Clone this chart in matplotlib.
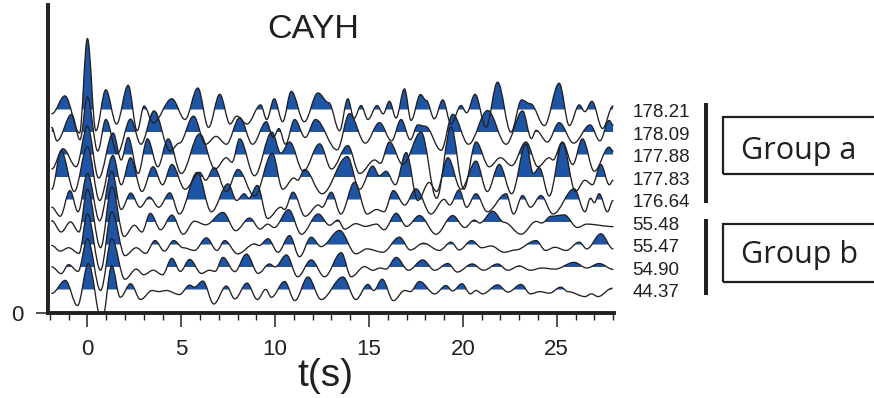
import matplotlib
matplotlib.use('Agg')
import matplotlib.pyplot as plt
from matplotlib.path import Path
from matplotlib.patches import PathPatch, Rectangle
from matplotlib.ticker import MultipleLocator

plt.rcParams['font.family'] = ['Liberation Sans', 'DejaVu Sans']

# ---------------- data ----------------
title = 'CAYH'
x_label = 't(s)'
x_ticks = [0, 5, 10, 15, 20, 25]
y_ticks = [0]
trace_labels = ['178.21', '178.09', '177.88', '177.83', '176.64',
                '55.48', '55.47', '54.90', '44.37']
group_names = ['Group a', 'Group b']
group_sizes = [5, 4]

# each trace: (time s, amplitude) at its successive peaks and troughs
trace_178_21 = [(-1.9, -0.15), (-1.2, 0.65), (-0.42, -1.0), (0.0, 3.2), (0.45, -0.9), (0.98, 0.92),
                (1.55, -0.6), (2.17, 1.12), (2.65, -0.9), (3.02, 0.2), (3.5, -0.55), (4.5, 0.52),
                (5.2, -0.4), (5.88, 1.0), (6.45, -0.75), (7.05, 0.72), (7.6, -0.6), (7.95, -0.25),
                (8.5, -0.6), (9.23, 0.25), (9.55, -0.4), (9.95, 0.52), (10.4, -0.5), (10.86, 0.85),
                (11.55, -0.5), (12.28, 0.78), (12.85, 0.35), (13.43, -0.9), (13.87, 0.52), (14.2, -0.35),
                (14.58, 0.22), (14.94, -0.4), (15.43, 0.22), (15.75, -0.15), (16.09, 0.41), (16.44, -0.33),
                (16.89, 0.96), (17.24, -0.44), (17.74, 0.71), (18.05, 0.45), (18.48, -0.37), (18.93, 0.47),
                (19.37, -0.6), (19.9, 0.22), (20.2, -0.1), (20.65, 0.72), (21.23, -0.74), (21.85, 1.26),
                (22.56, -0.96), (23.13, 0.47), (23.6, 0.3), (24.34, -0.67), (25.13, 1.21), (25.67, -0.67),
                (26.2, 0.25), (26.5, -0.05), (26.87, 0.41), (27.44, -0.8), (28.0, 0.2)]
trace_178_09 = [(-1.9, 0.25), (-1.62, -0.35), (-0.84, 0.83), (-0.4, -0.3), (0.0, 1.6), (0.55, -0.8),
                (0.98, 0.6), (1.6, -0.9), (2.3, 0.62), (2.85, -0.5), (3.55, 0.98), (4.4, -0.8),
                (4.9, -0.45), (5.65, 0.75), (6.3, -0.5), (6.85, -0.15), (7.4, -0.5), (8.11, 0.68),
                (8.8, -0.5), (9.53, 0.5), (9.9, -0.2), (10.2, 0.2), (10.55, -0.5), (11.04, 0.6),
                (11.6, -0.2), (12.15, 0.6), (13.3, -0.75), (13.96, 0.86), (14.8, -0.45), (15.56, 0.46),
                (16.2, -0.35), (16.71, 0.6), (17.2, -0.3), (17.6, 0.36), (18.0, 0.3), (18.84, -0.77),
                (19.46, 0.83), (20.3, -0.5), (21.32, 1.0), (22.3, -0.5), (23.18, 0.98), (23.65, -0.25),
                (23.9, 0.12), (24.5, -0.4), (25.13, 0.46), (25.9, -0.45), (26.78, 0.36), (27.3, -0.35),
                (27.79, 0.56), (28.0, 0.35)]
trace_177_88 = [(-1.9, -0.6), (-1.3, 0.3), (-0.6, -0.5), (0.0, 1.3), (0.6, -1.0), (1.37, 1.0),
                (1.8, -0.2), (2.17, 0.8), (2.7, -0.8), (3.2, 0.74), (3.75, -0.5), (4.3, 0.74),
                (5.0, -0.8), (5.98, 0.96), (6.8, -0.6), (7.4, -0.1), (7.7, -0.3), (8.11, 0.74),
                (8.9, -0.9), (9.83, 1.04), (10.3, 0.1), (10.77, 0.6), (11.5, -0.7), (12.37, 0.52),
                (13.0, -0.6), (13.87, 0.44), (14.5, -0.8), (15.3, -0.2), (15.6, -0.35), (16.09, 0.6),
                (16.8, -0.4), (17.77, 1.04), (18.6, -1.9), (19.37, 1.26), (20.05, -1.5), (20.7, 0.6),
                (21.4, -0.5), (22.0, -0.1), (22.6, -0.45), (23.36, 0.6), (24.0, -0.5), (24.6, -0.1),
                (24.8, -0.2), (25.3, 0.6), (25.85, -0.4), (26.37, 0.74), (27.0, -0.7), (27.79, 0.37),
                (28.0, 0.2)]
trace_177_83 = [(-1.9, -0.5), (-1.4, 1.2), (-0.7, -0.6), (0.0, 1.4), (0.65, -1.0), (1.36, 1.0),
                (1.8, -0.3), (2.3, 0.9), (2.9, -0.6), (3.5, 0.5), (4.0, -0.3), (4.5, 0.6),
                (5.2, -0.5), (5.98, 0.25), (6.3, -0.1), (6.75, 0.46), (7.4, -0.6), (8.02, 0.38),
                (8.9, -0.8), (9.85, 1.1), (10.4, -0.5), (11.0, 0.0), (11.2, -0.1), (11.57, 0.38),
                (12.5, -0.7), (13.84, 0.95), (14.5, -0.5), (15.2, 0.53), (15.55, 0.1), (15.91, 0.3),
                (16.4, -0.3), (16.98, 1.13), (17.6, -1.0), (18.2, -0.2), (18.6, -0.6), (19.2, 0.9),
                (19.9, -0.5), (20.7, 0.75), (21.3, -0.6), (21.94, 0.6), (22.6, -0.7), (23.36, 1.5),
                (23.75, 0.2), (24.07, 0.46), (24.6, -0.8), (25.3, 1.57), (26.0, -0.6), (26.5, -0.1),
                (26.9, -0.3), (27.35, 0.6), (27.8, -0.3), (28.0, -0.1)]
trace_176_64 = [(-1.9, -0.3), (-1.45, -0.7), (-0.93, 0.44), (-0.5, -0.5), (0.0, 1.2), (0.65, -0.9),
                (1.3, 1.3), (1.8, -0.4), (2.31, 0.33), (2.8, -0.3), (3.3, 0.15), (3.8, -0.3),
                (4.39, 0.34), (4.9, -0.6), (5.85, 1.25), (6.6, -0.5), (7.49, 0.74), (7.95, 0.0),
                (8.35, 0.3), (8.6, 0.1), (9.05, 0.67), (9.6, -0.8), (10.3, -0.3), (10.5, -0.4),
                (10.95, 0.37), (11.6, -0.7), (12.3, -0.2), (12.5, -0.3), (12.99, 0.37), (13.5, -0.6),
                (14.23, 0.81), (14.9, -0.6), (15.4, -0.4), (15.8, -0.5), (16.3, 0.44), (16.9, -0.2),
                (17.5, 0.52), (18.3, -0.6), (19.0, 0.05), (19.3, -0.2), (19.8, 0.47), (20.2, -0.3),
                (20.7, 0.3), (21.3, -0.5), (22.3, 0.3), (22.7, -0.6), (23.18, 0.22), (23.6, -0.3),
                (24.16, 0.22), (24.8, -0.6), (25.93, 0.52), (26.5, -0.5), (26.8, 0.1), (27.0, -0.1),
                (27.26, 0.3), (27.7, -0.5), (28.0, 0.0)]
trace_55_48 = [(-1.9, 0.1), (-1.4, -0.4), (-0.9, 0.05), (-0.45, -0.4), (0.0, 1.5), (0.7, -1.1),
               (1.3, 1.6), (1.95, -0.6), (2.5, -0.1), (2.9, -0.4), (3.35, 0.43), (3.9, -0.3),
               (4.5, 0.35), (5.1, -0.5), (5.7, 0.08), (6.3, -0.08), (7.22, 0.47), (7.9, -0.34),
               (8.64, 0.22), (9.2, -0.27), (9.6, -0.05), (9.95, -0.2), (10.72, 0.59), (11.4, -0.5),
               (12.3, 0.4), (12.9, -0.1), (13.34, 0.13), (13.7, -0.27), (14.3, -0.03), (14.8, -0.15),
               (15.4, -0.05), (15.8, -0.3), (16.45, 0.43), (17.0, -0.15), (17.69, 0.33), (18.57, -0.5),
               (19.46, 0.33), (20.1, -0.2), (20.61, 0.13), (20.9, 0.0), (21.59, 0.52), (22.2, 0.03),
               (23.1, -0.5), (23.9, 0.07), (24.2, 0.0), (24.7, 0.3), (25.4, 0.36), (26.1, -0.2),
               (26.6, -0.05), (28.0, -0.16)]
trace_55_47 = [(-1.9, 0.0), (-1.45, -0.25), (-1.0, -0.1), (-0.45, -0.35), (0.0, 1.4), (0.7, -1.1),
               (1.3, 1.5), (2.0, -0.45), (2.6, -0.1), (3.1, -0.35), (3.6, 0.22), (4.1, -0.25),
               (4.6, 0.22), (5.1, -0.1), (5.7, -0.22), (6.34, 0.34), (6.9, -0.22), (7.31, 0.22),
               (8.0, -0.37), (8.9, 0.07), (9.15, 0.0), (9.62, 0.3), (10.15, -0.3), (10.77, 0.44),
               (11.3, -0.5), (11.92, 0.37), (12.45, -0.05), (13.43, 0.67), (14.3, -0.37), (14.9, -0.15),
               (15.73, -0.3), (16.62, 0.37), (17.2, -0.2), (17.9, 0.1), (18.75, -0.22), (19.37, 0.15),
               (19.8, -0.2), (20.47, 0.22), (21.0, -0.1), (21.5, -0.02), (22.2, -0.3), (22.8, -0.2),
               (23.9, 0.22), (24.4, -0.22), (24.9, -0.08), (25.5, -0.22), (26.2, 0.15), (26.6, -0.15),
               (27.35, 0.52), (28.0, -0.15)]
trace_54_90 = [(-1.9, 0.05), (-1.4, -0.25), (-1.0, 0.15), (-0.5, -0.15), (0.0, 1.3), (0.7, -1.0),
               (1.3, 1.3), (2.0, -0.5), (2.6, -0.05), (3.0, -0.3), (3.5, -0.1), (4.0, -0.3),
               (4.5, 0.43), (4.95, -0.15), (5.45, 0.38), (6.07, -0.24), (6.5, -0.1), (6.8, -0.15),
               (7.22, 0.47), (7.85, -0.16), (8.47, 0.62), (9.1, -0.24), (9.7, 0.18), (10.0, 0.05),
               (10.6, 0.58), (11.2, -0.39), (11.92, 0.36), (12.63, -0.39), (13.52, 0.68), (14.05, -0.39),
               (14.76, 0.06), (15.2, -0.1), (15.6, 0.0), (15.9, -0.05), (16.45, 0.47), (17.1, -0.1),
               (17.86, 0.36), (18.5, -0.1), (19.2, 0.2), (19.7, -0.18), (20.5, 0.18), (21.1, -0.1),
               (21.85, 0.18), (22.4, -0.1), (23.0, 0.09), (23.6, -0.1), (24.2, 0.0), (24.9, -0.05),
               (25.93, 0.25), (26.6, 0.0), (27.26, 0.2), (28.0, -0.06)]
trace_44_37 = [(-1.9, -0.13), (-1.18, 0.45), (-0.53, -0.67), (0.05, 1.2), (0.77, -1.4), (1.3, 1.1),
               (1.75, -0.3), (2.3, 0.3), (2.83, -0.4), (3.45, 0.0), (3.8, -0.05), (4.2, 0.0),
               (4.9, -0.18), (5.45, 0.24), (5.7, 0.15), (6.15, 0.42), (6.73, -0.6), (7.4, 0.2),
               (7.85, -0.37), (8.5, 0.33), (9.05, -0.4), (9.5, 0.05), (9.8, -0.3), (10.5, 0.4),
               (11.05, -0.45), (11.75, 0.6), (12.45, -0.4), (13.61, 0.6), (14.3, -0.4), (14.94, 0.27),
               (15.25, 0.0), (15.7, 0.5), (16.3, -0.45), (16.9, 0.0), (17.2, -0.05), (17.69, 0.4),
               (18.5, -0.15), (19.1, 0.22), (19.45, -0.02), (19.95, 0.3), (20.4, -0.15), (20.7, 0.0),
               (21.05, -0.15), (21.85, 0.25), (22.4, -0.07), (23.1, 0.27), (23.6, -0.15), (24.1, -0.05),
               (24.6, -0.12), (25.22, 0.15), (25.6, -0.05), (26.5, -0.27), (26.85, -0.15), (27.2, -0.27),
               (27.95, 0.1)]

traces = [trace_178_21, trace_178_09, trace_177_88, trace_177_83, trace_176_64,
          trace_55_48, trace_55_47, trace_54_90, trace_44_37]

# ---------------- style / layout ----------------
W, H = 874, 398
INK = '#231f20'
BLUE = '#1d55a4'
LIGHT = '#86a6d3'


def fx(px):
    return px / W


def fy(py):
    return 1 - py / H


fig = plt.figure(figsize=(W / 100, H / 100), dpi=100)
ax = fig.add_axes([fx(48), fy(313), 566 / W, 308 / H])
ax.set_xlim(-2.1, 28.05)
ax.set_ylim(0, 308 / 22.5)


def wiggle(points, base, k=0.36):
    verts = [(points[0][0], base + points[0][1])]
    codes = [Path.MOVETO]
    for (t0, a0), (t1, a1) in zip(points[:-1], points[1:]):
        d = (t1 - t0) * k
        verts += [(t0 + d, base + a0), (t1 - d, base + a1), (t1, base + a1)]
        codes += [Path.CURVE4] * 3
    return verts, codes


n = len(traces)
strip = 0.065
for i, pts in enumerate(traces):
    base = n - i
    verts, codes = wiggle(pts, base)
    closed = Path(verts + [(pts[-1][0], base), (pts[0][0], base), (pts[0][0], base)],
                  codes + [Path.LINETO, Path.LINETO, Path.CLOSEPOLY])
    p_light = PathPatch(closed, facecolor=LIGHT, edgecolor='none', lw=0, zorder=2)
    ax.add_patch(p_light)
    p_light.set_clip_path(Rectangle((-3, base + 0.025), 40, strip - 0.025,
                                    transform=ax.transData))
    p_blue = PathPatch(closed, facecolor=BLUE, edgecolor='none', lw=0, zorder=2)
    ax.add_patch(p_blue)
    p_blue.set_clip_path(Rectangle((-3, base + strip), 40, 20, transform=ax.transData))
    ax.add_patch(PathPatch(Path(verts, codes), fill=False, edgecolor=INK, lw=0.95,
                           zorder=3, capstyle='round', joinstyle='round'))
    ax.text(29.02, base - 0.30, trace_labels[i], fontsize=13.5, color=INK,
            ha='left', va='baseline', clip_on=False)

for s in ['top', 'right']:
    ax.spines[s].set_visible(False)
for s in ['left', 'bottom']:
    ax.spines[s].set_linewidth(2.8)
    ax.spines[s].set_color(INK)

ax.set_xticks(x_ticks)
ax.xaxis.set_minor_locator(MultipleLocator(1))
ax.tick_params(axis='x', which='major', length=10, width=1.1, color=INK,
               labelsize=16, pad=9, labelcolor=INK)
ax.tick_params(axis='x', which='minor', length=5, width=1.0, color=INK)
ax.set_yticks(y_ticks)
ax.set_yticklabels([str(v) for v in y_ticks])
ax.tick_params(axis='y', which='major', length=9, width=1.1, color=INK,
               labelsize=16, pad=9, labelcolor=INK)

fig.text(fx(313), fy(38.3), title, fontsize=24.5, color=INK, ha='center', va='baseline')
fig.text(fx(325), fy(386), x_label, fontsize=28, color=INK, ha='center', va='baseline')

# group bars and boxes
bar_spans = [(102.7, 203.0), (219.0, 295.0)]
box_spans = [(116.7, 174.3), (224.0, 281.7)]
text_base = [159.3, 263.3]
for g, name in enumerate(group_names):
    y0, y1 = bar_spans[g]
    fig.add_artist(Rectangle((fx(703.9), fy(y1)), 3.7 / W, (y1 - y0) / H,
                             transform=fig.transFigure, facecolor=INK, edgecolor='none'))
    b0, b1 = box_spans[g]
    fig.add_artist(Rectangle((fx(722.7), fy(b1)), (880 - 722.7) / W, (b1 - b0) / H,
                             transform=fig.transFigure, fill=False, edgecolor=INK, lw=1.6))
    fig.text(fx(741), fy(text_base[g]), name, fontsize=22, color=INK, ha='left',
             va='baseline', family=['Open Sans', 'DejaVu Sans'])

fig.savefig('out.png', dpi=100)
